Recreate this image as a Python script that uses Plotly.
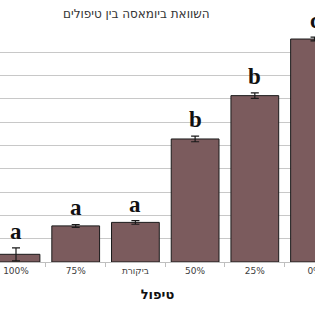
import plotly.graph_objects as go

categories = ["100%", "75%", "ביקורת", "50%", "25%", "0%"]
values = [0.33, 1.55, 1.70, 5.28, 7.14, 9.57]
errors = [0.28, 0.06, 0.08, 0.12, 0.12, 0.08]
letters = ["a", "a", "a", "b", "b", "c"]

fig = go.Figure()
fig.add_trace(go.Bar(
    x=categories, y=values,
    marker=dict(color="#7b5b5d", line=dict(color="#1a1a1a", width=1)),
    error_y=dict(type="data", array=errors, color="#1a1a1a", thickness=1.2, width=4),
    width=0.8,
))

for c, v, e, l in zip(categories, values, errors, letters):
    fig.add_annotation(x=c, y=v + e, text="<b>" + l + "</b>", showarrow=False,
                       yanchor="bottom", yshift=2,
                       font=dict(family="Liberation Serif", size=23, color="#111111"))

fig.add_annotation(x=136/315, y=1, xref="paper", yref="paper", yanchor="bottom",
                   yshift=6, text="השוואת ביומאסה בין טיפולים", showarrow=False,
                   font=dict(family="DejaVu Sans", size=12, color="#333333"))

fig.update_layout(
    width=315, height=310,
    margin=dict(l=0, r=0, t=29, b=48, autoexpand=False),
    plot_bgcolor="white", paper_bgcolor="white",
    showlegend=False,
    xaxis=dict(range=[-0.268, 5.008], tickson="boundaries", ticks="outside", ticklen=4,
               automargin=False,
               tickcolor="#bfbfbf", showline=True, linecolor="#bfbfbf",
               tickfont=dict(family="DejaVu Sans", size=9, color="#404040"),
               title=dict(text="<b>טיפול</b>", standoff=15,
                          font=dict(family="DejaVu Sans", size=13, color="#111111"))),
    yaxis=dict(range=[0, 10], dtick=1, showgrid=True, gridcolor="#c8c8c8", gridwidth=1,
               showticklabels=False, zeroline=False, automargin=False),
)
fig.write_html("out.html")
